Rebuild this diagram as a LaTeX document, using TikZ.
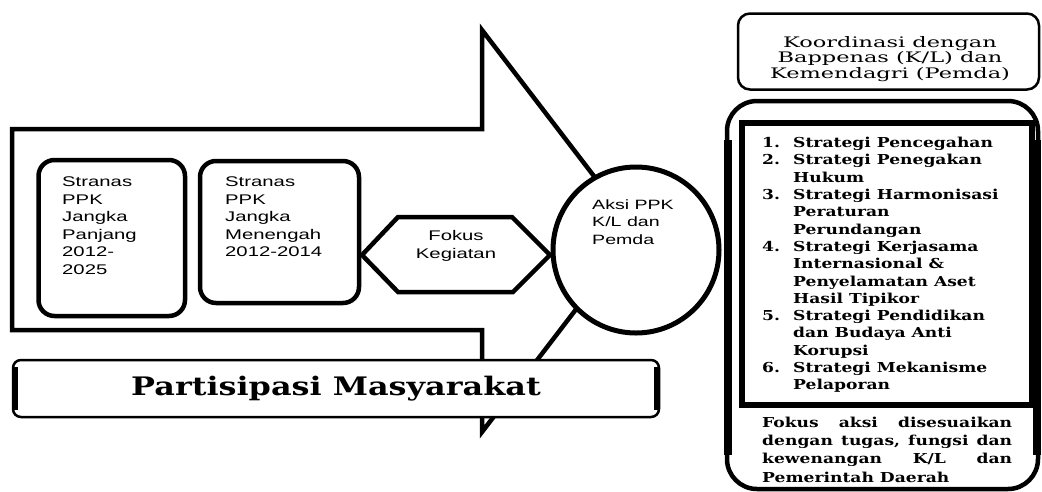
\documentclass[tikz,border=0pt]{standalone}
\usepackage{fontspec}
\newfontfamily\sansw[FakeStretch=1.45]{Liberation Sans}
\newfontfamily\serifw[FakeStretch=1.55]{DejaVu Serif}
\newfontfamily\serifbw[FakeStretch=1.25]{DejaVu Serif}
\tikzset{
  thickline/.style={line width=4.5pt, line join=miter},
  roundbox/.style={draw, line width=4.5pt, rounded corners=16pt, fill=white, inner sep=0pt},
  boxtext/.style={inner sep=0pt, align=left, font=\sansw\fontsize{14}{17.6}\selectfont},
  circtext/.style={inner sep=0pt, align=left, font=\sansw\fontsize{13.5}{17.5}\selectfont},
  listtext/.style={inner sep=0pt, align=left, font=\serifbw\bfseries\fontsize{13.7}{17.3}\selectfont},
}
\newcommand{\numitem}[1]{\makebox[31pt][l]{#1}}
\newcommand{\contitem}{\hspace*{31pt}}
\begin{document}
\begin{tikzpicture}[x=1pt,y=-1pt]
\useasboundingbox (0,0) rectangle (1042,491);
% big arrow
\draw[thickline] (12,129) -- (482,129) -- (482,30) -- (636,231) -- (482,432) -- (482,330) -- (12,330) -- cycle;
% strategy boxes
\node[roundbox, minimum width=146.5pt, minimum height=156pt] (rpj) at (111.75,238) {};
\node[boxtext, anchor=north west] (rpjt) at (62,176.5) {Stranas\\PPK\\Jangka\\Panjang\\2012-\\2025};
\node[roundbox, minimum width=159pt, minimum height=142pt] (rpm) at (279.5,232) {};
\node[boxtext, anchor=north west] (rpmt) at (225,176.5) {Stranas\\PPK\\Jangka\\Menengah\\2012-2014};
% hexagon
\draw[thickline, fill=white] (362,255) -- (398,217) -- (512,217) -- (550,255) -- (513,292) -- (398,292) -- cycle;
\node[boxtext, align=center] (fokus) at (456,246) {Fokus\\Kegiatan};
% circle
\node[draw, circle, line width=5pt, minimum size=166pt, fill=white, inner sep=0pt] (aksi) at (636,250) {};
\node[circtext, anchor=north west] (aksit) at (592,199.5) {Aksi PPK\\K/L dan\\Pemda};
% partisipasi
\draw[line width=2.5pt, rounded corners=8pt, fill=white] (13,360) rectangle (659,417);
\draw[line width=6pt] (15,367) -- (15,410);
\draw[line width=6pt] (657,367) -- (657,410);
\node[inner sep=0pt, font=\serifbw\bfseries\fontsize{25.5}{28}\selectfont] (part) at (336,389) {Partisipasi Masyarakat};
% koordinasi
\node[draw, line width=2.5pt, rounded corners=12pt, minimum width=301pt, minimum height=76pt, inner sep=0pt] (koord) at (888.5,51.5) {};
\node[inner sep=0pt, align=center, font=\serifw\fontsize{14.5}{15.5}\selectfont] (koordt) at (890,59) {Koordinasi dengan\\Bappenas (K/L) dan\\Kemendagri (Pemda)};
% right big box
\draw[line width=4.5pt, rounded corners=30pt] (727,101) rectangle (1038,489);
\draw[line width=8pt] (728,140) -- (728,455);
\draw[line width=8pt] (1037,140) -- (1037,455);
\node[draw, line width=6pt, minimum width=290pt, minimum height=282.5pt, inner sep=0pt] (strat) at (886.5,263.75) {};
\node[listtext, anchor=north west] (stratt) at (762,137) {%
\numitem{1.}Strategi Pencegahan\\
\numitem{2.}Strategi Penegakan\\
\contitem Hukum\\
\numitem{3.}Strategi Harmonisasi\\
\contitem Peraturan\\
\contitem Perundangan\\
\numitem{4.}Strategi Kerjasama\\
\contitem Internasional \&\\
\contitem Penyelamatan Aset\\
\contitem Hasil Tipikor\\
\numitem{5.}Strategi Pendidikan\\
\contitem dan Budaya Anti\\
\contitem Korupsi\\
\numitem{6.}Strategi Mekanisme\\
\contitem Pelaporan};
\node[inner sep=0pt, align=left, anchor=north west, font=\serifbw\bfseries\fontsize{13.7}{18.3}\selectfont] (fokust) at (762,416.5) {%
\makebox[250pt][s]{Fokus\hfill aksi\hfill disesuaikan}\\
\makebox[250pt][s]{dengan\hfill tugas,\hfill fungsi\hfill dan}\\
\makebox[250pt][s]{kewenangan\hfill K/L\hfill dan}\\
Pemerintah Daerah};
\end{tikzpicture}
\end{document}
